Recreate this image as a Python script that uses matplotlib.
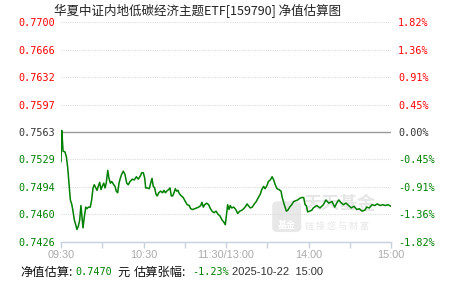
import matplotlib
matplotlib.use('Agg')
import matplotlib.pyplot as plt
from matplotlib.patches import FancyBboxPatch

plt.rcParams['font.family'] = ['Noto Sans CJK SC', 'DejaVu Sans']

# previous day's NAV and the estimate curve (minutes after 09:30, trading time only)
base = 0.7563
minutes = [0, 0.5, 1.0, 1.5, 2.9, 3.9, 4.9, 5.8, 6.8, 7.9, 8.7, 9.7, 10.7, 11.6, 12.6,
           13.6, 14.5, 15.5, 16.0, 16.9, 18.0, 18.9, 19.9, 21.3, 22.3, 23.3, 24.2, 25.3,
           26.2, 27.1, 28.1, 29.1, 30.0, 31.1, 32.0, 32.9, 34.0, 34.9, 35.9, 36.9, 38.0,
           39.3, 40.2, 41.2, 42.2, 43.1, 44.1, 45.3, 46.5, 47.8, 48.9, 50.2, 51.9, 53.3,
           54.8, 56.2, 57.7, 58.7, 59.9, 60.9, 61.6, 62.8, 64.2, 65.2, 66.2, 67.1, 68.1,
           69.1, 70.0, 71.1, 72.5, 73.9, 74.9, 75.9, 76.9, 78.3, 79.3, 80.2, 81.2, 82.2,
           83.1, 84.1, 85.1, 86.0, 87.5, 88.9, 90.4, 91.8, 93.3, 94.3, 95.8, 97.2, 98.7,
           100.1, 101.6, 102.5, 103.5, 104.5, 105.9, 107.4, 108.4, 109.8, 111.3, 112.7,
           114.2, 115.6, 117.1, 118.5, 119.5,
           120.5, 121.2, 122.2, 123.1, 124.1, 125.6, 127.1, 128.5, 130.0, 131.4, 132.9,
           134.3, 135.3, 136.2, 137.7, 139.1, 140.6, 142.0, 143.5, 144.9, 146.0, 147.4,
           148.4, 149.8, 150.8, 152.2, 153.5, 154.7, 155.6, 157.1, 158.5, 160.0, 160.9,
           162.4, 163.9, 164.9, 166.3, 167.8, 169.2, 170.7, 172.2, 173.6, 175.1, 176.5,
           177.5, 178.4, 179.4, 180.9, 182.3, 183.5, 186.0, 188.4, 190.8, 192.7, 194.7,
           197.1, 199.1, 200.5, 202.0, 203.4, 205.3, 207.3, 209.2, 211.1, 213.1, 215.1,
           217.0, 218.9, 220.9, 222.3, 224.2, 226.2, 228.2, 230.0, 232.0, 234.0, 235.9,
           237.8, 240]
nav = [0.7526, 0.7565, 0.7553, 0.7539, 0.7538, 0.7532, 0.7518, 0.7499, 0.7478, 0.7472,
       0.7464, 0.7453, 0.7447, 0.7441, 0.7445, 0.7453, 0.7471, 0.7453, 0.7443, 0.7456,
       0.7469, 0.7467, 0.7469, 0.7469, 0.7478, 0.7493, 0.7497, 0.7493, 0.7490, 0.7495,
       0.7500, 0.7491, 0.7495, 0.7499, 0.7493, 0.7499, 0.7515, 0.7505, 0.7499, 0.7501,
       0.7498, 0.7495, 0.7489, 0.7487, 0.7499, 0.7505, 0.7510, 0.7514, 0.7510, 0.7499,
       0.7497, 0.7501, 0.7504, 0.7503, 0.7507, 0.7504, 0.7508, 0.7512, 0.7512, 0.7505,
       0.7493, 0.7493, 0.7492, 0.7499, 0.7505, 0.7495, 0.7493, 0.7485, 0.7483, 0.7487,
       0.7489, 0.7487, 0.7490, 0.7487, 0.7489, 0.7491, 0.7493, 0.7483, 0.7483, 0.7487,
       0.7492, 0.7489, 0.7490, 0.7486, 0.7483, 0.7481, 0.7476, 0.7472, 0.7471, 0.7467,
       0.7466, 0.7467, 0.7468, 0.7469, 0.7471, 0.7475, 0.7469, 0.7472, 0.7474, 0.7472,
       0.7468, 0.7464, 0.7462, 0.7464, 0.7460, 0.7458, 0.7453, 0.7450, 0.7447,
       0.7462, 0.7472, 0.7466, 0.7471, 0.7468, 0.7469, 0.7466, 0.7461, 0.7464, 0.7465,
       0.7467, 0.7470, 0.7473, 0.7471, 0.7468, 0.7469, 0.7473, 0.7476, 0.7481, 0.7485,
       0.7491, 0.7495, 0.7492, 0.7496, 0.7501, 0.7503, 0.7507, 0.7503, 0.7498, 0.7492,
       0.7491, 0.7489, 0.7481, 0.7472, 0.7464, 0.7465, 0.7469, 0.7472, 0.7476, 0.7477,
       0.7478, 0.7480, 0.7481, 0.7481, 0.7472, 0.7471, 0.7463, 0.7464, 0.7465, 0.7468,
       0.7471, 0.7468, 0.7472, 0.7478, 0.7474, 0.7476, 0.7469, 0.7474, 0.7478, 0.7475,
       0.7472, 0.7474, 0.7471, 0.7468, 0.7470, 0.7466, 0.7467, 0.7464, 0.7465, 0.7469,
       0.7468, 0.7472, 0.7471, 0.7473, 0.7471, 0.7472, 0.7471, 0.7472, 0.7470]

pct = [-1.82, -1.36, -0.91, -0.45, 0.00, 0.45, 0.91, 1.36, 1.82]
left_labels = ['0.7426', '0.7460', '0.7494', '0.7529', '0.7563',
               '0.7597', '0.7632', '0.7666', '0.7700']
right_labels = ['-1.82%', '-1.36%', '-0.91%', '-0.45%', '0.00%',
                '0.45%', '0.91%', '1.36%', '1.82%']
tick_minutes = [0, 30, 60, 90, 120, 150, 180, 210, 240]
time_labels = ['09:30', '', '10:30', '', '11:30/13:00', '', '14:00', '', '15:00']

title = '华夏中证内地低碳经济主题ETF[159790] 净值估算图'
est_nav = '0.7470'
est_chg = '-1.23%'
stamp = '2025-10-22  15:00'

GREEN = '#008000'
RED = '#ff0000'
DARK = '#333333'

def label_color(p):
    if p > 0:
        return RED
    if p < 0:
        return GREEN
    return DARK

yt = [base * (1 + p / 100) for p in pct]

fig = plt.figure(figsize=(4.51, 2.81), dpi=100)
ax = fig.add_axes([61 / 451, 1 - 242 / 281, 330 / 451, 220 / 281])
ax.set_xlim(0, 240)
ax.set_ylim(yt[0], yt[-1])

for v, p in zip(yt, pct):
    if p == 0:
        ax.axhline(v, color='#999999', lw=1.0, zorder=2)
    else:
        ax.axhline(v, color='#dddddd', lw=0.8, ls=(0, (1, 1)), zorder=1)

# watermark
ax.add_patch(FancyBboxPatch((0.640, 0.045), 0.088, 0.14, transform=ax.transAxes,
                            boxstyle='round,pad=0,rounding_size=0.02',
                            fc='#e8e8e8', ec='none', zorder=0))
ax.text(0.684, 0.075, '基金', transform=ax.transAxes, color='white', fontsize=6.5,
        fontweight='bold', ha='center', va='center', zorder=0)
ax.text(0.735, 0.175, '天天基金', transform=ax.transAxes, color='#e6e6e6', fontsize=13,
        fontweight='bold', ha='left', va='center', zorder=0)
ax.text(0.740, 0.072, '链 接 您 与 财 富', transform=ax.transAxes, color='#e6e6e6',
        fontsize=6.5, ha='left', va='center', zorder=0)

ax.plot(minutes, nav, color=GREEN, lw=1.1, zorder=3)

for s in ['top', 'left', 'right']:
    ax.spines[s].set_visible(False)
ax.spines['bottom'].set_color('#c8d0dc')
ax.spines['bottom'].set_linewidth(1.0)

ax.set_xticks(tick_minutes)
ax.set_xticklabels(time_labels, fontsize=7.8, color='#aaaaaa', family='Liberation Sans')
ax.tick_params(axis='x', length=4, width=1, color='#c8d0dc', pad=2)

ax.set_yticks(yt)
ax.set_yticklabels(left_labels, fontsize=7.3, family='DejaVu Sans Mono')
ax.tick_params(axis='y', length=0, pad=4)
for lab, p in zip(ax.get_yticklabels(), pct):
    lab.set_color(label_color(p))

ax2 = ax.twinx()
ax2.set_ylim(ax.get_ylim())
ax2.set_yticks(yt)
ax2.set_yticklabels(right_labels, fontsize=7.3, family='DejaVu Sans Mono')
ax2.tick_params(axis='y', length=0, pad=5)
for lab, p in zip(ax2.get_yticklabels(), pct):
    lab.set_color(label_color(p))
for s in ax2.spines.values():
    s.set_visible(False)

fig.text(198 / 451, 1 - 11 / 281, title, ha='center', va='center', fontsize=9, color='#222222')

yb = 1 - 272 / 281
fig.text(20 / 451, yb, '净值估算:', fontsize=8.8, color='#111111', va='center')
fig.text(75 / 451, yb, est_nav, fontsize=7.3, color=GREEN, va='center', family='DejaVu Sans Mono')
fig.text(117 / 451, yb, '元', fontsize=8.8, color='#111111', va='center')
fig.text(134 / 451, yb, '估算张幅:', fontsize=8.8, color='#111111', va='center')
fig.text(192 / 451, yb, est_chg, fontsize=7.3, color=GREEN, va='center', family='DejaVu Sans Mono')
fig.text(232 / 451, yb, stamp, fontsize=8, color='#333333', va='center', family='Liberation Sans')

fig.savefig('out.png', dpi=100)
